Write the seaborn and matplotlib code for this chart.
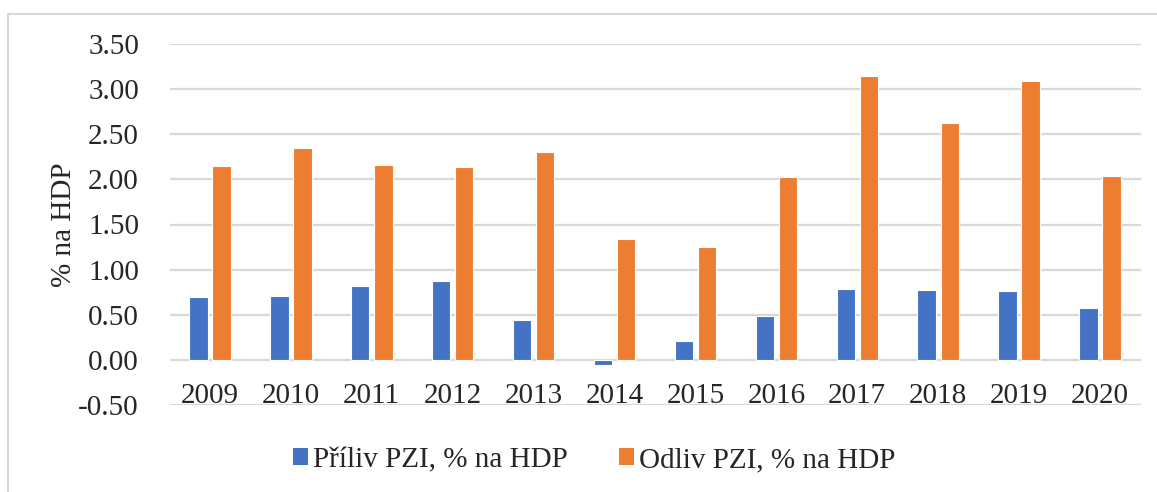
import matplotlib
matplotlib.use("Agg")
import matplotlib.pyplot as plt
import seaborn as sns
import pandas as pd
from matplotlib.lines import Line2D
from matplotlib.patches import Patch

years = ["2009", "2010", "2011", "2012", "2013", "2014",
         "2015", "2016", "2017", "2018", "2019", "2020"]
inflow = [0.70, 0.71, 0.82, 0.87, 0.44, -0.06, 0.21, 0.49, 0.78, 0.77, 0.76, 0.57]
outflow = [2.15, 2.35, 2.16, 2.14, 2.30, 1.34, 1.25, 2.03, 3.15, 2.62, 3.09, 2.04]
series_names = ["Příliv PZI, % na HDP", "Odliv PZI, % na HDP"]
yticks = [-0.5, 0.0, 0.5, 1.0, 1.5, 2.0, 2.5, 3.0, 3.5]
colors = ["#4472C4", "#ED7D31"]

df = pd.DataFrame({
    "year": years * 2,
    "value": inflow + outflow,
    "series": [series_names[0]] * len(years) + [series_names[1]] * len(years),
})

sns.set_theme(style="white")
plt.rcParams["font.family"] = ["Liberation Serif", "DejaVu Serif"]

W, H = 1157, 492
fig = plt.figure(figsize=(W / 100, H / 100), dpi=100)
ax = fig.add_axes([169.5 / W, 1 - 405 / H, (1140.5 - 169.5) / W, (405 - 44) / H])

sns.barplot(data=df, x="year", y="value", hue="series", order=years,
            hue_order=series_names, palette=colors, saturation=1,
            width=0.57, gap=0.2, edgecolor="white", linewidth=0.8,
            ax=ax, legend=False, zorder=3)

ax.set_ylim(-0.5, 3.5)
ax.set_xlim(-0.5, len(years) - 0.5)
ax.set_yticks(yticks)
ax.set_yticklabels([f"{t:.2f}" for t in yticks], fontsize=21)
ax.yaxis.grid(True, color="#D9D9D9", linewidth=1.6, zorder=0)
ax.set_axisbelow(True)
for s in ax.spines.values():
    s.set_visible(False)

# x axis crosses at zero
ax.spines["bottom"].set_position(("data", 0))
ax.tick_params(axis="x", length=0, pad=17, labelsize=21)
ax.tick_params(axis="y", length=0, pad=22)
ax.set_xlabel("")
ax.set_ylabel("% na HDP", fontsize=21, labelpad=1)

handles = [Patch(facecolor=c, edgecolor="none") for c in colors]
fig.legend(handles, series_names, loc="center", bbox_to_anchor=(594 / W, 1 - 460 / H),
           ncol=2, frameon=False, fontsize=21, handlelength=0.52, handleheight=0.52,
           handletextpad=0.17, columnspacing=1.75)

# chart-area border (top and left visible)
fig.add_artist(Line2D([8 / W, 1.0], [1 - 14 / H, 1 - 14 / H], color="#D9D9D9",
                      linewidth=1.5, transform=fig.transFigure))
fig.add_artist(Line2D([8 / W, 8 / W], [1 - 14 / H, 0], color="#D9D9D9",
                      linewidth=1.5, transform=fig.transFigure))

fig.savefig("out.png", dpi=100)
